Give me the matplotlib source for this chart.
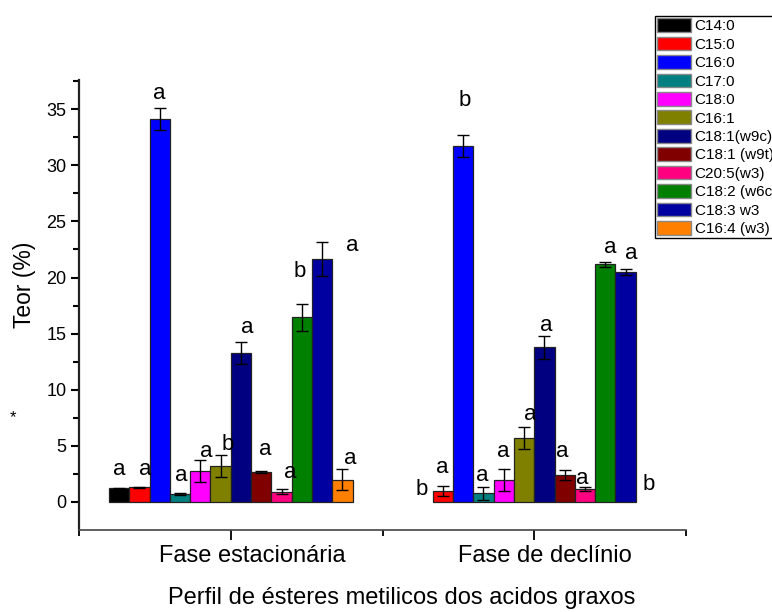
import numpy as np
import matplotlib
matplotlib.use("Agg")
import matplotlib.pyplot as plt
import matplotlib.transforms as mtransforms
from matplotlib.patches import Patch

plt.rcParams['font.family'] = ['Liberation Sans', 'DejaVu Sans']

# ---------------- data ----------------
acids = ["C14:0", "C15:0", "C16:0", "C17:0", "C18:0", "C16:1", "C18:1(w9c)",
         "C18:1 (w9t)", "C20:5(w3)", "C18:2 (w6c)", "C18:3 w3", "C16:4 (w3)"]
phases = ["Fase estacionária", "Fase de declínio"]

est_vals = [1.2, 1.3, 34.1, 0.7, 2.75, 3.2, 13.27, 2.67, 0.92, 16.45, 21.64, 2.0]
est_err = [0.05, 0.05, 1.0, 0.07, 0.95, 1.0, 0.95, 0.05, 0.2, 1.2, 1.5, 0.95]
dec_vals = [np.nan, 1.0, 31.73, 0.77, 1.96, 5.7, 13.77, 2.37, 1.16, 21.16, 20.5, np.nan]
dec_err = [np.nan, 0.45, 1.0, 0.6, 0.95, 1.0, 1.05, 0.45, 0.2, 0.18, 0.27, np.nan]

est_letters = ["a", "a", "a", "a", "a", "b", "a", "a", "a", "b", "a", "a"]
dec_letters = ["b", "a", "b", "a", "a", "a", "a", "a", "a", "a", "a", "b"]

# ---------------- styling / layout ----------------
colors = ["#000000", "#FF0000", "#0000FF", "#008080", "#FF00FF", "#808000",
          "#000080", "#800000", "#FF0080", "#008000", "#0000A0", "#FF8000"]

# label offsets (dx in data x-units, dy above bar+error in y-units)
est_dx = [0.0, 0.037, -0.005, 0.011, 0.036, 0.047, 0.045, 0.025, 0.056, -0.016, 0.197, 0.05]
est_dy = [1.6, 1.5, 1.3, 1.63, 0.77, 0.88, 1.34, 1.97, 1.49, 2.92, -0.25, 0.94]
dec_dx = [-0.006, -0.001, 0.012, -0.006, -0.003, 0.039, 0.01, -0.016, -0.017, 0.031, 0.034, 0.016]
dec_dy = [1.07, 1.66, 3.06, 1.03, 1.57, 1.05, 0.94, 1.66, 0.75, 1.34, 1.38, 1.51]
phase_label_shift_px = [22, 11]

W, H = 772, 612
fig = plt.figure(figsize=(W / 100, H / 100), dpi=100)
ax = fig.add_axes([79 / W, 1 - 530 / H, (686 - 79) / W, (530 - 80) / H])

group_x = [1, 3]
bw = 0.1338
n = len(acids)

all_vals = [est_vals, dec_vals]
all_err = [est_err, dec_err]
all_letters = [est_letters, dec_letters]
all_dx = [est_dx, dec_dx]
all_dy = [est_dy, dec_dy]

for g, gx in enumerate(group_x):
    vals = np.array(all_vals[g], dtype=float)
    errs = np.array(all_err[g], dtype=float)
    xs = gx + (np.arange(n) - (n - 1) / 2) * bw
    for i in range(n):
        if np.isnan(vals[i]):
            continue
        ax.bar(xs[i], vals[i], width=bw, color=colors[i], edgecolor="#222222",
               linewidth=0.9, zorder=2)
        ax.errorbar(xs[i], vals[i], yerr=errs[i], fmt="none", ecolor="black",
                    elinewidth=1.0, capsize=4, capthick=1.0, zorder=3)
    for i in range(n):
        top = 0.0 if np.isnan(vals[i]) else vals[i] + errs[i]
        ax.text(xs[i] + all_dx[g][i], top + all_dy[g][i], all_letters[g][i],
                ha="center", va="center", fontsize=16, zorder=4)

ax.set_xlim(0, 4)
ax.set_ylim(-2.5, 37.6)
ax.set_yticks(np.arange(0, 36, 5))
ax.set_yticks(np.arange(2.5, 37.6, 5), minor=True)
ax.set_xticks(group_x)
ax.set_xticklabels(phases, fontsize=17)
ax.set_xticks([0, 2, 4], minor=True)
ax.tick_params(axis="y", which="major", direction="out", length=6, width=1.5,
               labelsize=13, pad=3)
ax.tick_params(axis="y", which="minor", direction="out", length=4, width=1.5)
ax.tick_params(axis="x", which="major", direction="out", length=7, width=1.3, pad=4)
ax.tick_params(axis="x", which="minor", direction="out", length=4, width=1.3)

for lbl, shift in zip(ax.get_xticklabels(), phase_label_shift_px):
    lbl.set_transform(lbl.get_transform() +
                      mtransforms.ScaledTranslation(shift / 100, 0, fig.dpi_scale_trans))

for s in ["top", "right"]:
    ax.spines[s].set_visible(False)
ax.spines["left"].set_linewidth(1.6)
ax.spines["left"].set_color("#222222")
ax.spines["bottom"].set_linewidth(1.2)
ax.spines["bottom"].set_color("#444444")

fig.text(25 / W, 1 - 285 / H, "Teor (%)", rotation=90, ha="center", va="center", fontsize=16.5)
fig.text(13 / W, 1 - 418 / H, "*", ha="center", va="center", fontsize=12)
fig.text(402 / W, 1 - 598 / H, "Perfil de ésteres metilicos dos acidos graxos",
         ha="center", va="center", fontsize=17)

handles = [Patch(facecolor=c, edgecolor="#888888", linewidth=1.0) for c in colors]
leg = fig.legend(handles, acids, loc="upper left", bbox_to_anchor=(655 / W, 1 - 16 / H),
                 fontsize=11, handlelength=2.2, handleheight=1.0, labelspacing=0.22,
                 handletextpad=0.25, borderpad=0.15, borderaxespad=0.0,
                 fancybox=False, framealpha=1, edgecolor="black")
leg.get_frame().set_linewidth(1.0)

fig.savefig("out.png", dpi=100)
